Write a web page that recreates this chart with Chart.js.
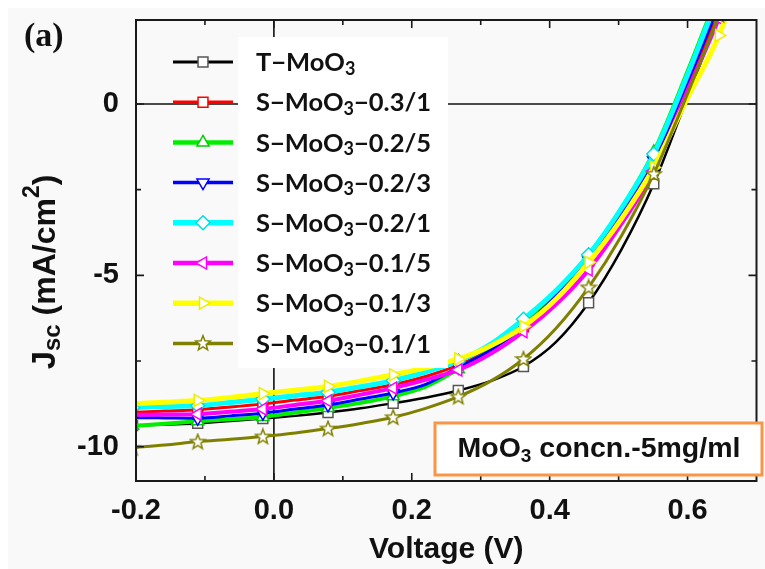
<!DOCTYPE html>
<html><head><meta charset="utf-8">
<script src="https://cdn.jsdelivr.net/npm/chart.js@4.4.1/dist/chart.umd.min.js"></script>
<style>html,body{margin:0;padding:0;background:#fff}#wrap{width:765px;height:569px;position:relative}</style>
</head><body><div id="wrap"><canvas id="c" width="765" height="569"></canvas></div>
<script>
// ---- data ----
const voltage = [-0.205,-0.158,-0.1105,-0.063,-0.016,0.031,0.0785,0.126,0.173,0.220,0.2675,0.315,0.362,0.409,0.4565,0.504,0.551,0.598,0.6455,0.693];
const seriesNames = ["T\u2212MoO\u2083","S\u2212MoO\u2083\u22120.3/1","S\u2212MoO\u2083\u22120.2/5","S\u2212MoO\u2083\u22120.2/3","S\u2212MoO\u2083\u22120.2/1","S\u2212MoO\u2083\u22120.1/5","S\u2212MoO\u2083\u22120.1/3","S\u2212MoO\u2083\u22120.1/1"];
const jT     = [-9.38,-9.35,-9.32,-9.25,-9.18,-9.10,-9.00,-8.88,-8.73,-8.57,-8.36,-8.08,-7.66,-6.95,-5.80,-4.25,-2.33,0.10,2.60,5.20];
const j03_1  = [-9.00,-8.96,-8.92,-8.84,-8.75,-8.64,-8.53,-8.36,-8.19,-7.95,-7.62,-7.15,-6.50,-5.65,-4.60,-3.30,-1.75,0.45,2.70,5.30];
const j02_5  = [-9.39,-9.33,-9.26,-9.20,-9.13,-9.00,-8.87,-8.72,-8.53,-8.25,-7.74,-7.15,-6.40,-5.50,-4.45,-3.05,-1.40,0.85,3.30,5.90];
const j02_3  = [-9.15,-9.16,-9.17,-9.10,-9.02,-8.90,-8.78,-8.61,-8.43,-8.18,-7.68,-7.18,-6.50,-5.60,-4.55,-3.20,-1.65,0.55,2.90,5.50];
const j02_1  = [-8.86,-8.83,-8.80,-8.71,-8.61,-8.51,-8.41,-8.25,-8.07,-7.82,-7.50,-7.00,-6.28,-5.45,-4.40,-3.05,-1.46,0.75,3.20,5.80];
const j01_5  = [-9.07,-9.06,-9.05,-8.98,-8.90,-8.78,-8.66,-8.48,-8.29,-8.05,-7.76,-7.28,-6.64,-5.85,-4.84,-3.50,-1.95,0.30,2.50,5.10];
const j01_3  = [-8.75,-8.70,-8.65,-8.56,-8.45,-8.35,-8.24,-8.08,-7.90,-7.70,-7.44,-7.05,-6.49,-5.70,-4.62,-3.35,-1.85,0.10,2.00,4.60];
const j01_1  = [-10.03,-9.95,-9.85,-9.78,-9.70,-9.60,-9.47,-9.32,-9.14,-8.88,-8.54,-8.08,-7.44,-6.55,-5.35,-3.85,-2.04,0.20,2.60,5.20];
const xTicks = [-0.2,0.0,0.2,0.4,0.6];
const xMinorTicks = [-0.1,0.1,0.3,0.5];
const yTicks = [-10,-5,0];
const yMinorTicks = [-7.5,-2.5];
const annotationText = "MoO\u2083 concn.-5mg/ml";

// ---- styles ----
const seriesValues = [jT,j03_1,j02_5,j02_3,j02_1,j01_5,j01_3,j01_1];
const colors = ['#000000','#ff0000','#00ee00','#0000ff','#00ffff','#ff00ff','#ffff00','#808000'];
const markerColors = ['#555555','#ff0000','#00cc00','#0000ff','#00dddd','#ff00ff','#eeee00','#808000'];
const widths = [2.5,3,4,3,5,4,5,3];
const styles = ['rect','rect','triangle','triangle','rectRot','triangle','triangle','star'];
const rotations = [0,0,0,180,0,270,90,0];

function makeStar(color){
  const c=document.createElement('canvas'); c.width=18;c.height=18;
  const g=c.getContext('2d'); g.beginPath();
  for(let k=0;k<10;k++){const r=k%2?3.3:7.8;const a=-Math.PI/2+k*Math.PI/5;const px=9+r*Math.cos(a),py=9.5+r*Math.sin(a);k?g.lineTo(px,py):g.moveTo(px,py);}
  g.closePath(); g.fillStyle='#fff'; g.fill(); g.strokeStyle=color; g.lineWidth=1.5; g.stroke();
  return c;
}
const starImg = makeStar('#808000');

const datasets = seriesNames.map((name,i)=>({
  label:name,
  data: voltage.map((v,k)=>({x:v,y:seriesValues[i][k]})),
  borderColor:colors[i], borderWidth:widths[i],
  pointStyle: styles[i]==='star'?starImg:styles[i],
  rotation: rotations[i],
  pointRadius: ctx=> ctx.dataIndex%2===0 ? 7 : 0,
  pointHoverRadius: ctx=> ctx.dataIndex%2===0 ? 7 : 0,
  pointBackgroundColor:'#ffffff', pointBorderColor:markerColors[i], pointBorderWidth:1.5,
  cubicInterpolationMode:'monotone', fill:false,
  order: seriesNames.length - i
}));

function drawMarker(ctx, style, rot, x, y, r, color){
  ctx.save(); ctx.translate(x,y); ctx.rotate(rot*Math.PI/180);
  ctx.fillStyle='#fff'; ctx.strokeStyle=color; ctx.lineWidth=1.5;
  if(style==='star'){ ctx.drawImage(starImg,-9,-9.5); ctx.restore(); return; }
  ctx.beginPath();
  if(style==='rect'){ const s=r*Math.SQRT1_2; ctx.rect(-s,-s,2*s,2*s); }
  else if(style==='rectRot'){ ctx.moveTo(0,-r);ctx.lineTo(r,0);ctx.lineTo(0,r);ctx.lineTo(-r,0);ctx.closePath(); }
  else if(style==='triangle'){ ctx.moveTo(0,-r); ctx.lineTo(r*Math.sin(2*Math.PI/3), -r*Math.cos(2*Math.PI/3)); ctx.lineTo(r*Math.sin(4*Math.PI/3), -r*Math.cos(4*Math.PI/3)); ctx.closePath(); }
  ctx.fill(); ctx.stroke(); ctx.restore();
}

// draw text with "₃" rendered as a real subscript 3
function richText(ctx, text, x, y, size, family, subSize, subDy, measureOnly){
  const parts = text.split('\u2083');
  let w=0;
  parts.forEach((p,idx)=>{
    ctx.font='bold '+size+'px '+family; const pw=ctx.measureText(p).width;
    if(!measureOnly) ctx.fillText(p,x+w,y); w+=pw;
    if(idx<parts.length-1){ ctx.font='bold '+subSize+'px '+family; const sw=ctx.measureText('3').width; if(!measureOnly) ctx.fillText('3',x+w,y+subDy); w+=sw; }
  });
  return w;
}

const decorPlugin = {
  id:'decor',
  beforeDraw(chart){
    const c=chart.ctx; c.save(); c.fillStyle='#ffffff'; c.fillRect(0,0,chart.width,chart.height);
    c.fillStyle='#f9f9f9'; c.fillRect(8,8,chart.width-8,chart.height-8); c.restore();
  },
  beforeDatasetsDraw(chart){
    const c=chart.ctx, a=chart.chartArea, xs=chart.scales.x, ys=chart.scales.y;
    c.save(); c.strokeStyle='#111'; c.lineWidth=1.6; c.beginPath();
    const x0=xs.getPixelForValue(0), y0=ys.getPixelForValue(0);
    c.moveTo(x0,a.top); c.lineTo(x0,a.bottom); c.moveTo(a.left,y0); c.lineTo(a.right,y0); c.stroke(); c.restore();
  },
  afterDatasetsDraw(chart){
    const c=chart.ctx, a=chart.chartArea, xs=chart.scales.x, ys=chart.scales.y;
    c.save();
    // frame
    c.strokeStyle='#1a1a1a'; c.lineWidth=2; c.strokeRect(a.left,a.top,a.right-a.left,a.bottom-a.top);
    c.lineWidth=1.6; c.beginPath();
    const tick=(list,len)=>{
      list.forEach(v=>{const px=xs.getPixelForValue(v); c.moveTo(px,a.bottom); c.lineTo(px,a.bottom-len); c.moveTo(px,a.top); c.lineTo(px,a.top+len);});
    };
    tick(xTicks,8); tick(xMinorTicks,5);
    const ytick=(list,len)=>{
      list.forEach(v=>{const py=ys.getPixelForValue(v); c.moveTo(a.left,py); c.lineTo(a.left+len,py); c.moveTo(a.right,py); c.lineTo(a.right-len,py);});
    };
    ytick(yTicks,8); ytick(yMinorTicks,5);
    c.stroke();
    // legend
    c.fillStyle='#ffffff'; c.fillRect(238,37,210,331);
    seriesNames.forEach((name,i)=>{
      const y=62+40.2*i;
      c.strokeStyle=colors[i]; c.lineWidth=widths[i]+0.5; c.beginPath(); c.moveTo(173,y); c.lineTo(233,y); c.stroke();
      drawMarker(c, styles[i], rotations[i], 203, y, 7, markerColors[i]);
      c.fillStyle='#111'; c.textBaseline='middle'; c.textAlign='left';
      richText(c, name, 256, y+1, 25.5, 'Lato, "Open Sans", sans-serif', 18, 6, false);
    });
    // annotation box
    c.fillStyle='#ffffff'; c.fillRect(435,423,327,52);
    c.strokeStyle='#f79646'; c.lineWidth=3; c.strokeRect(435,423,327,52);
    c.fillStyle='#111'; c.textBaseline='middle';
    const fam='"Liberation Sans", Arial, sans-serif';
    const aw = richText(c, annotationText, 0, 0, 28.5, fam, 19, 8, true);
    richText(c, annotationText, 599-aw/2, 449, 28.5, fam, 19, 8, false);
    c.restore();
  },
  afterDraw(chart){
    const c=chart.ctx; c.save();
    // panel label
    c.fillStyle='#111'; c.font='bold 34px "Liberation Serif", "Times New Roman", serif'; c.textBaseline='alphabetic'; c.textAlign='left';
    c.fillText('(a)',24,46);
    // y axis title with sub/superscripts
    c.translate(44,272); c.rotate(-Math.PI/2);
    const fam='"Liberation Sans", Arial, sans-serif';
    const parts=[['J',33,0],['sc',24,7],[' (mA/cm',32,0],['2',23,-13],[')',32,0]];
    let tw=0; parts.forEach(p=>{c.font='bold '+p[1]+'px '+fam; tw+=c.measureText(p[0]).width;});
    let x=-tw/2; c.textBaseline='middle';
    parts.forEach(p=>{c.font='bold '+p[1]+'px '+fam; c.fillText(p[0],x,p[2]+2); x+=c.measureText(p[0]).width;});
    c.restore();
  }
};

new Chart(document.getElementById('c'),{
  type:'line',
  data:{datasets},
  options:{
    responsive:false, animation:false, events:[],
    layout:{padding:{top:20,right:1,left:0,bottom:0}},
    plugins:{legend:{display:false},tooltip:{enabled:false}},
    scales:{
      x:{type:'linear',min:-0.2,max:0.7,
        afterBuildTicks:s=>{s.ticks=xTicks.map(v=>({value:v}));},
        afterFit:s=>{s.height=88;s.paddingLeft=0;s.paddingRight=0;},
        grid:{display:false}, border:{display:false},
        ticks:{color:'#111',padding:5,font:{family:'"Liberation Sans", Arial, sans-serif',weight:'bold',size:29},callback:v=>Number(v).toFixed(1)},
        title:{display:true,text:'Voltage (V)',color:'#111',font:{family:'"Liberation Sans", Arial, sans-serif',weight:'bold',size:30},padding:{top:0,bottom:1}}
      },
      y:{type:'linear',min:-11,max:2.45,
        afterBuildTicks:s=>{s.ticks=yTicks.map(v=>({value:v}));},
        afterFit:s=>{s.width=136;s.paddingTop=0;s.paddingBottom=0;},
        grid:{display:false}, border:{display:false},
        ticks:{color:'#111',padding:9,font:{family:'"Liberation Sans", Arial, sans-serif',weight:'bold',size:29},callback:v=>String(v)}
      }
    }
  },
  plugins:[decorPlugin]
});
</script></body></html>
